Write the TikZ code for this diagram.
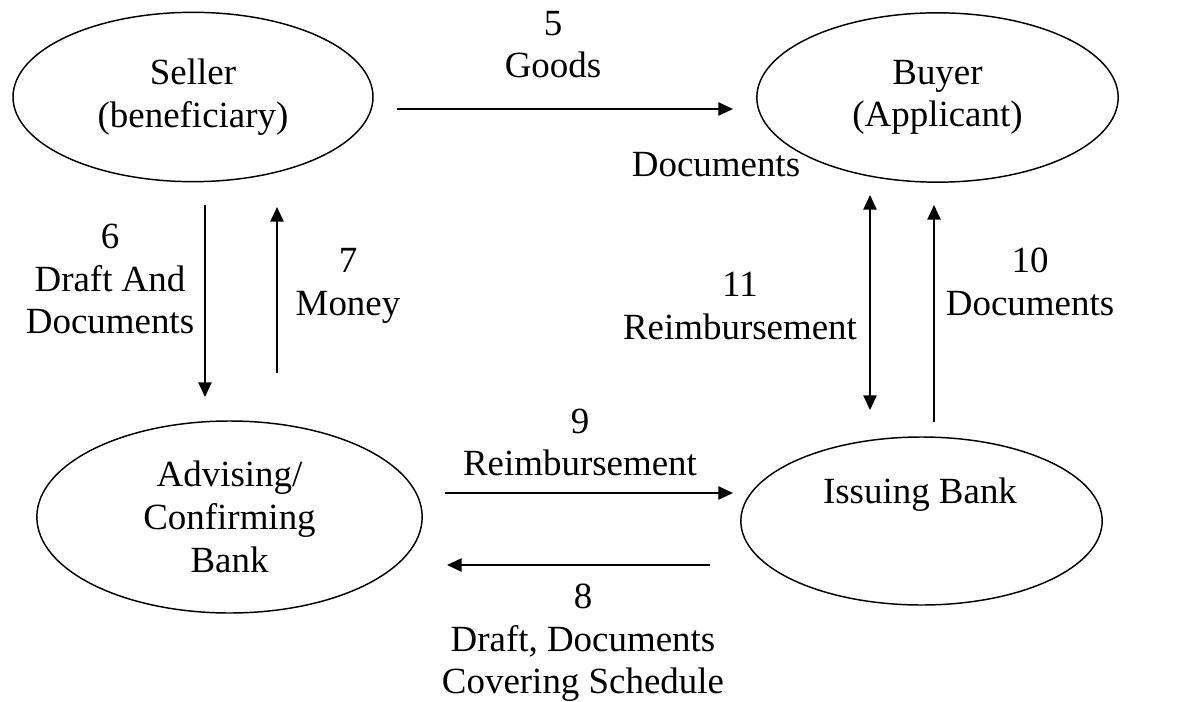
\documentclass[tikz,border=0pt]{standalone}
\usepackage{fontspec}
\setmainfont{Liberation Serif}
\usetikzlibrary{arrows.meta,shapes.geometric}

\tikzset{
  party/.style={draw, ellipse, line width=1.1pt, inner sep=0pt, align=center,
    font=\fontsize{27.7}{32}\selectfont},
  flowtext/.style={inner sep=0pt, align=center, font=\fontsize{27.7}{32}\selectfont},
  flow/.style={line width=1.1pt, -{Triangle[length=11pt,width=10pt]}},
  twoway/.style={line width=1.1pt, {Triangle[length=11pt,width=10pt]}-{Triangle[length=11pt,width=10pt]}}
}

\begin{document}
\begin{tikzpicture}[x=0.75pt, y=-0.75pt]
\useasboundingbox (0,0) rectangle (1184,702);

% the four parties
\node[party, minimum width=270pt, minimum height=127pt] (seller) at (193,97)
  {Seller\\(beneficiary)};
\node[party, minimum width=271pt, minimum height=127pt] (buyer) at (937.5,97.5)
  {Buyer\\(Applicant)};
\node[party, minimum width=289pt, minimum height=144pt] (advising) at (229.5,517)
  {Advising/\\Confirming\\Bank};
\node[party, minimum width=271pt, minimum height=126pt] (issuing) at (921.5,521) {};
\node[flowtext] (issuingtext) at (920,495) {Issuing Bank};

% arrow end points
\coordinate (s5) at (397,109);  \coordinate (e5) at (733,109);
\coordinate (s6) at (205,205);  \coordinate (e6) at (205,397);
\coordinate (s7) at (277,373);  \coordinate (e7) at (277,207);
\coordinate (s11) at (870,195); \coordinate (e11) at (870,410);
\coordinate (s10) at (934,422); \coordinate (e10) at (934,205);
\coordinate (s9) at (445,493);  \coordinate (e9) at (733,493);
\coordinate (s8) at (710,565);  \coordinate (e8) at (447,565);

% flows
\draw[flow] (s5) -- (e5);
\draw[flow] (s6) -- (e6);
\draw[flow] (s7) -- (e7);
\draw[twoway] (s11) -- (e11);
\draw[flow] (s10) -- (e10);
\draw[flow] (s9) -- (e9);
\draw[flow] (s8) -- (e8);

% flow labels
\node[flowtext] (l5) at (553,44.5) {5\\Goods};
\node[flowtext] (l5b) at (716,164.5) {Documents};
\node[flowtext] (l6) at (110,279) {6\\Draft And\\Documents};
\node[flowtext] (l7) at (348,286) {7\\Money};
\node[flowtext] (l11) at (740,306) {11\\Reimbursement};
\node[flowtext] (l10) at (1030,282) {10\\Documents};
\node[flowtext] (l9) at (580,442.5) {9\\Reimbursement};
\node[flowtext] (l8) at (583,643) {8\\Draft, Documents\\Covering Schedule};
\end{tikzpicture}
\end{document}
